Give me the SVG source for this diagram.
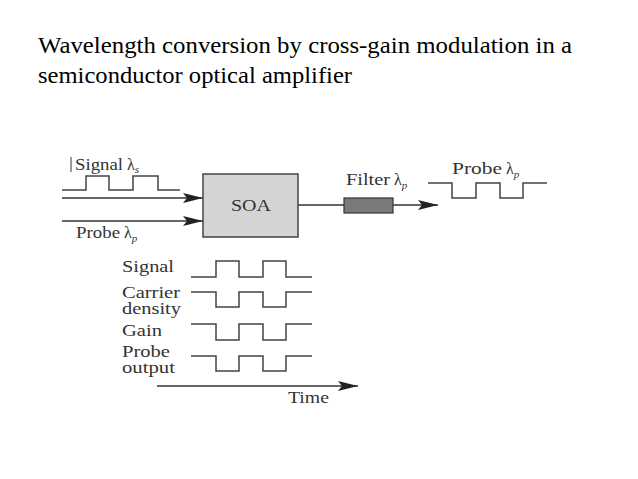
<svg xmlns="http://www.w3.org/2000/svg" width="638" height="479" viewBox="0 0 638 479">
<style>
.title{font-family:"Liberation Serif","Times New Roman",serif;font-size:24px;fill:#000}
.lbl{font-family:"Liberation Serif","Times New Roman",serif;font-size:16px;fill:#333}
.sub{font-size:11px;font-style:italic}
.wave{fill:none;stroke:#444;stroke-width:1.5}
.line{fill:none;stroke:#333;stroke-width:1.5}
</style>
<defs>
<marker id="ahb" markerWidth="20" markerHeight="10" refX="20" refY="5" orient="auto" markerUnits="userSpaceOnUse" viewBox="0 0 20 10">
<path d="M0,0 L20,5 L0,10 L4,5 Z" fill="#222"/>
</marker>
</defs>
<rect width="638" height="479" fill="#fff"/>
<text class="title" x="38" y="53" textLength="534" lengthAdjust="spacingAndGlyphs">Wavelength conversion by cross-gain modulation in a</text>
<text class="title" x="38" y="83" textLength="314" lengthAdjust="spacingAndGlyphs">semiconductor optical amplifier</text>

<g id="connectors">
<line class="line" x1="62" y1="198" x2="203" y2="198" marker-end="url(#ahb)"/>
<line class="line" x1="62" y1="221" x2="203" y2="221" marker-end="url(#ahb)"/>
<line class="line" x1="298" y1="205" x2="344" y2="205"/>
<line class="line" x1="393" y1="205" x2="438" y2="205" marker-end="url(#ahb)"/>
<line class="line" x1="157" y1="386" x2="358" y2="386" marker-end="url(#ahb)"/>
</g>

<g id="soa">
<rect x="203" y="174" width="95" height="63" fill="#d4d4d4" stroke="#444" stroke-width="1.5"/>
<text class="lbl" x="231" y="211" textLength="40" lengthAdjust="spacingAndGlyphs">SOA</text>
</g>

<g id="filter">
<rect x="344" y="198" width="49" height="15" fill="#7a7a7a" stroke="#333" stroke-width="1.2"/>
<text class="lbl" x="346" y="185"><tspan textLength="44" lengthAdjust="spacingAndGlyphs">Filter</tspan> λ<tspan class="sub" dy="4">p</tspan></text>
</g>

<g id="signal-input">
<line x1="71" y1="157" x2="71" y2="172" stroke="#333" stroke-width="1"/>
<text class="lbl" x="75" y="170"><tspan textLength="48" lengthAdjust="spacingAndGlyphs">Signal</tspan> λ<tspan class="sub" dy="3">s</tspan></text>
<path class="wave" d="M62,190 H86 V176 H109 V190 H133 V176 H158 V190 H180"/>
</g>

<g id="probe-input">
<text class="lbl" x="76" y="238"><tspan textLength="44" lengthAdjust="spacingAndGlyphs">Probe</tspan> λ<tspan class="sub" dy="4">p</tspan></text>
</g>

<g id="probe-output">
<text class="lbl" x="452" y="174"><tspan textLength="50" lengthAdjust="spacingAndGlyphs">Probe</tspan> λ<tspan class="sub" dy="4">p</tspan></text>
<path class="wave" d="M428,183 H452 V198 H476 V183 H500 V198 H523 V183 H547"/>
</g>

<g id="timing">
<text class="lbl" x="122" y="272" textLength="52" lengthAdjust="spacingAndGlyphs">Signal</text>
<path class="wave" d="M191,277 H216 V261 H239 V277 H263 V261 H286 V277 H312"/>
<text class="lbl" x="122" y="298" textLength="58" lengthAdjust="spacingAndGlyphs">Carrier</text>
<text class="lbl" x="122" y="314" textLength="59" lengthAdjust="spacingAndGlyphs">density</text>
<path class="wave" d="M191,292 H216 V307 H239 V292 H263 V307 H286 V292 H312"/>
<text class="lbl" x="122" y="336" textLength="40" lengthAdjust="spacingAndGlyphs">Gain</text>
<path class="wave" d="M191,324 H216 V340 H239 V324 H263 V340 H286 V324 H312"/>
<text class="lbl" x="122" y="357" textLength="48" lengthAdjust="spacingAndGlyphs">Probe</text>
<text class="lbl" x="122" y="373" textLength="53" lengthAdjust="spacingAndGlyphs">output</text>
<path class="wave" d="M191,356 H216 V371 H239 V356 H263 V371 H286 V356 H312"/>
<text class="lbl" x="288" y="403" textLength="41" lengthAdjust="spacingAndGlyphs">Time</text>
</g>
</svg>
